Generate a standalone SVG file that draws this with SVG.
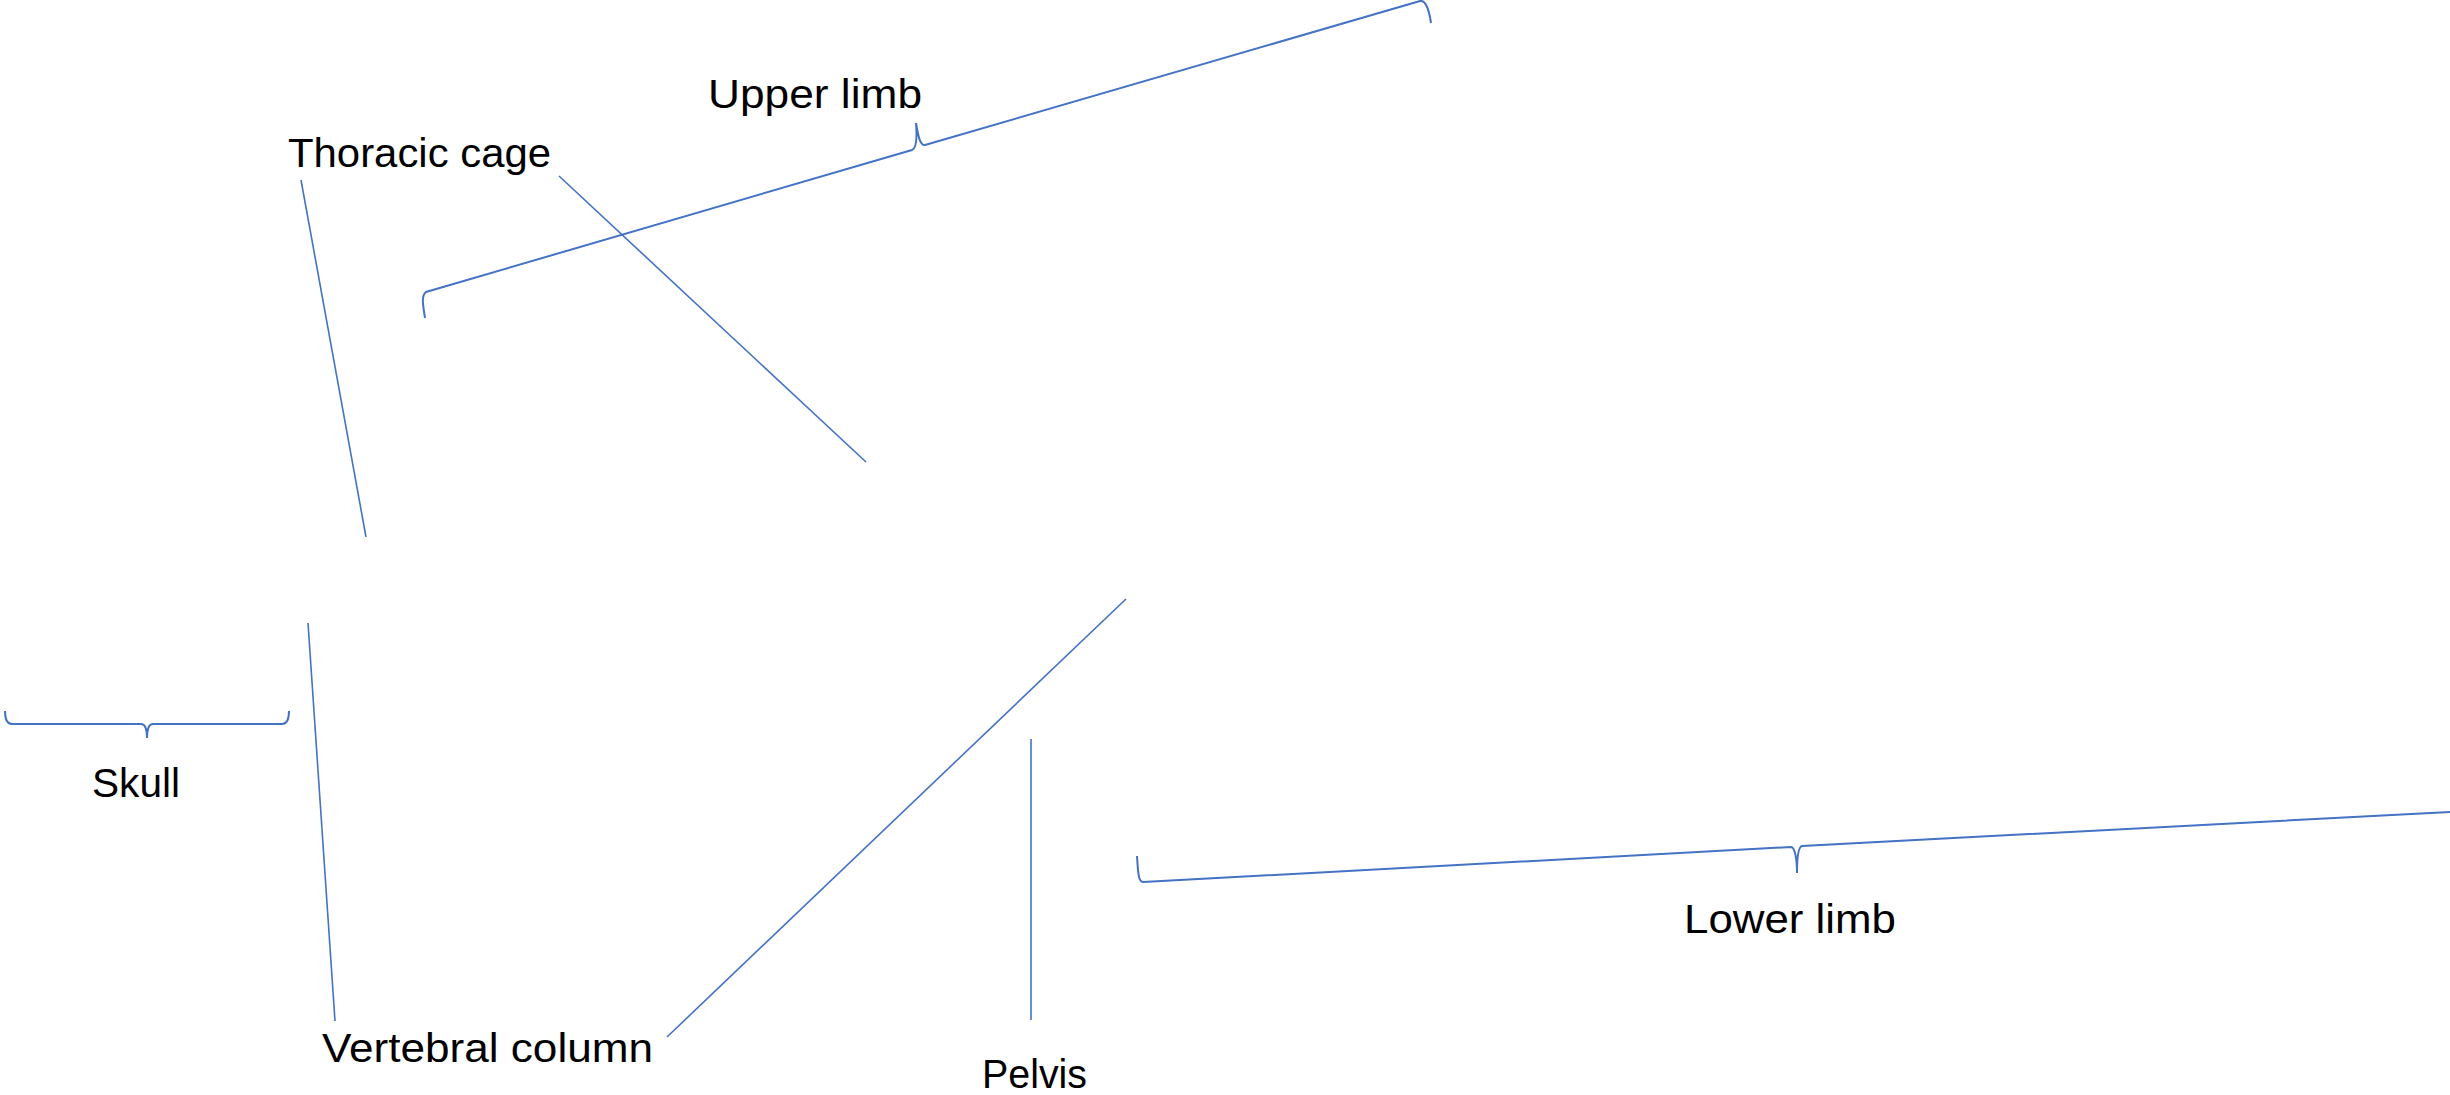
<svg xmlns="http://www.w3.org/2000/svg" width="2450" height="1095" viewBox="0 0 2450 1095">
<style>
.bg{fill:#ffffff}
.lbl{font-family:"Liberation Sans",Arial,sans-serif;font-size:41px;fill:#000000}
.ln{fill:none;stroke:#4472C4;stroke-width:1.6}
.br{fill:none;stroke:#4472C4;stroke-width:2}
</style>
<rect class="bg" x="0" y="0" width="2450" height="1095"/>
<g id="connectors">
<line class="ln" x1="301" y1="180" x2="366" y2="537"/>
<line class="ln" x1="559" y1="176" x2="866" y2="462"/>
<line class="ln" x1="308" y1="623" x2="335" y2="1021"/>
<line class="ln" x1="1126" y1="599" x2="667" y2="1037"/>
<line class="ln" x1="1031" y1="739" x2="1031" y2="1020"/>
</g>
<g id="skull">
<path class="br" d="M5,711 C5,718 6,724 12,724 L141,724 C146,724 147,730 147,738 C147,730 148,724 153,724 L282,724 C288,724 289,718 289,711"/>
<text class="lbl" x="92" y="797" textLength="88" lengthAdjust="spacingAndGlyphs">Skull</text>
</g>
<g id="upper-limb">
<path class="br" d="M425,318 C423,305 421,296 426,292 L912,150 C917,148 917,135 916,123 C918,135 920,146 925,145 L1420,1 C1426,0 1429,10 1431,23"/>
<text class="lbl" x="708" y="108" textLength="214" lengthAdjust="spacingAndGlyphs">Upper limb</text>
</g>
<g id="thoracic-cage">
<text class="lbl" x="288" y="167" textLength="263" lengthAdjust="spacingAndGlyphs">Thoracic cage</text>
</g>
<g id="vertebral-column">
<text class="lbl" x="322" y="1062" textLength="331" lengthAdjust="spacingAndGlyphs">Vertebral column</text>
</g>
<g id="pelvis">
<text class="lbl" x="982" y="1088" textLength="105" lengthAdjust="spacingAndGlyphs">Pelvis</text>
</g>
<g id="lower-limb">
<path class="br" d="M1137,856 C1138,870 1138,882 1143,882 L1791,847 C1795,847 1797,860 1797,873 C1797,860 1798,847 1802,846 L2450,812"/>
<text class="lbl" x="1684" y="933" textLength="212" lengthAdjust="spacingAndGlyphs">Lower limb</text>
</g>
</svg>
